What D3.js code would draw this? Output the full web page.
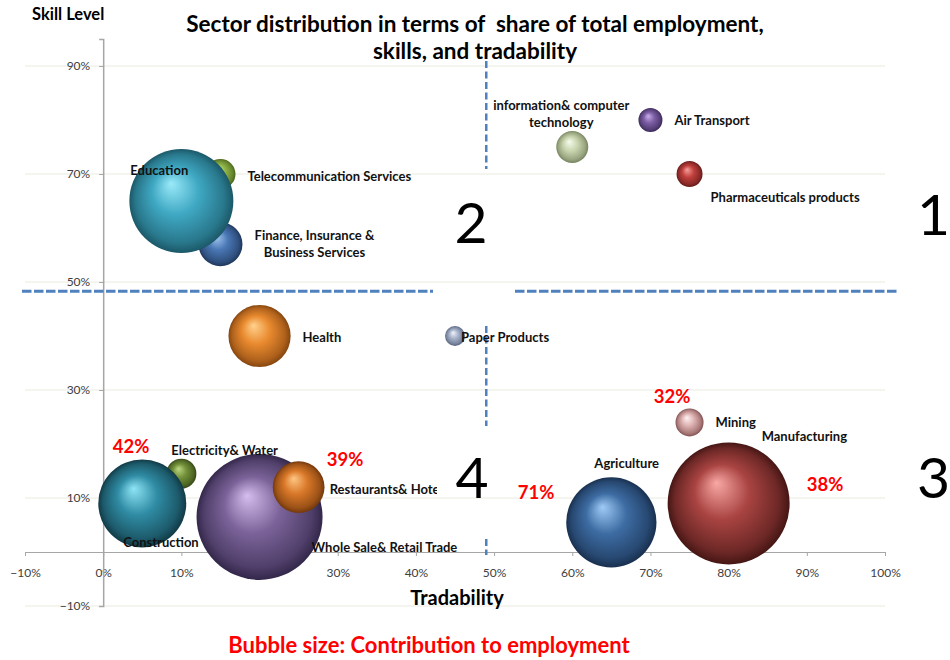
<!DOCTYPE html>
<html>
<head>
<meta charset="utf-8">
<script src="https://cdn.jsdelivr.net/npm/d3@7"></script>
<style>
  html, body { margin: 0; padding: 0; background: #fff; }
  svg { display: block; }
  text { font-family: Lato, "Open Sans", sans-serif; white-space: pre; }
</style>
</head>
<body>
<svg id="chart" width="950" height="660"></svg>
<script>
// ---------------- DATA ----------------
const sectors = [
  "Telecommunication Services", "Finance, Insurance & Business Services", "Education",
  "Electricity& Water", "Construction", "Whole Sale& Retail Trade", "Restaurants& Hotels",
  "Health", "Paper Products", "information& computer technology", "Air Transport",
  "Pharmaceuticals products", "Mining", "Agriculture", "Manufacturing"
];
const tradability = [0.15, 0.15, 0.10, 0.10, 0.05, 0.20, 0.25, 0.20, 0.45, 0.60, 0.70, 0.75, 0.75, 0.65, 0.80];
const skillLevel  = [0.70, 0.57, 0.65, 0.145, 0.09, 0.065, 0.12, 0.40, 0.40, 0.75, 0.80, 0.70, 0.24, 0.055, 0.09];
const employment  = [0.91, 1.95, 10.9, 0.91, 7.8, 16.0, 2.7, 3.9, 0.40, 1.03, 0.58, 0.68, 0.79, 8.2, 15.0];

const xTicks = [-0.1, 0, 0.1, 0.2, 0.3, 0.4, 0.5, 0.6, 0.7, 0.8, 0.9, 1.0];
const yTicks = [-0.1, 0.1, 0.3, 0.5, 0.7, 0.9];

const shareLabels = ["42%", "39%", "71%", "32%", "38%"];
const quadrantLabels = ["1", "2", "3", "4"];

const titleLines = ["Sector distribution in terms of  share of total employment,", "skills, and tradability"];

// ---------------- STYLE / LAYOUT ----------------
const bubbleColors = [
  ["#cbe88f", "#8eb347", "#4a661c"],
  ["#a4c9f2", "#4a77b5", "#1f375c"],
  ["#9aeaf9", "#3fa8c3", "#1b5868"],
  ["#bcd884", "#73913a", "#354716"],
  ["#8fe4f6", "#2f8ca4", "#113a46"],
  ["#d6bdee", "#7b6399", "#33274a"],
  ["#ffc784", "#d97829", "#73380b"],
  ["#ffd28e", "#e98a2f", "#86460f"],
  ["#f1f4fb", "#a7b2ca", "#56617c"],
  ["#f7fbee", "#c8d5ae", "#77845f"],
  ["#c9aeea", "#7c5ea4", "#3a2857"],
  ["#f79f9b", "#c0403d", "#641a18"],
  ["#fff3f3", "#deb1b1", "#835252"],
  ["#9fcbf6", "#3d6ca3", "#19304f"],
  ["#f9a8a5", "#a94442", "#451614"]
];
// label layout relative to bubble centre (px); lines split by "|"
const labelLayout = [
  {t: "Telecommunication Services", dx: 27, dy: 2, a: "start"},
  {t: "Finance, Insurance &|Business Services", dx: 94, dy: -9, a: "middle"},
  {t: "Education", dx: -51, dy: -31, a: "start"},
  {t: "Electricity& Water", dx: -10, dy: -24, a: "start"},
  {t: "Construction", dx: -19, dy: 39, a: "start"},
  {t: "Whole Sale& Retail Trade", dx: 52, dy: 30, a: "start"},
  {t: "Restaurants& Hotels", dx: 31, dy: 2, a: "start", clip: true},
  {t: "Health", dx: 43, dy: 1, a: "start"},
  {t: "Paper Products", dx: 6, dy: 1, a: "start"},
  {t: "information& computer|technology", dx: -11, dy: -42, a: "middle"},
  {t: "Air Transport", dx: 24, dy: 0, a: "start"},
  {t: "Pharmaceuticals products", dx: 21, dy: 23, a: "start"},
  {t: "Mining", dx: 26, dy: 0, a: "start"},
  {t: "Agriculture", dx: -17, dy: -59, a: "start"},
  {t: "Manufacturing", dx: 33, dy: -67, a: "start"}
];
const labelShift = 2;
const sharePos = [[131, 448], [345, 461], [536, 494], [672, 398], [825, 486]];
const quadPos = [[950, 235, "end"], [471, 243, "middle"], [950, 498, "end"], [472, 498, "middle"]];

// ---------------- CHART ----------------
const svg = d3.select("#chart");
const x = d3.scaleLinear().domain([-0.1, 1.0]).range([25, 885]);
const y = d3.scaleLinear().domain([-0.1, 0.95]).range([606, 39]);
const r = d3.scaleSqrt().domain([0, 16]).range([0, 63]);

const defs = svg.append("defs");
bubbleColors.forEach((c, i) => {
  const g = defs.append("radialGradient").attr("id", "g" + i)
    .attr("cx", "50%").attr("cy", "50%").attr("r", "50%")
    .attr("fx", "40%").attr("fy", "33%");
  g.append("stop").attr("offset", "0%").attr("stop-color", c[0]);
  g.append("stop").attr("offset", "45%").attr("stop-color", c[1]);
  g.append("stop").attr("offset", "85%").attr("stop-color", d3.interpolateRgb(c[1], c[2])(0.6));
  g.append("stop").attr("offset", "100%").attr("stop-color", c[2]);
});
defs.append("clipPath").attr("id", "plotClip")
  .append("rect").attr("x", 0).attr("y", 0).attr("width", 437).attr("height", 660);

// gridlines
svg.append("g").selectAll("line").data(yTicks).join("line")
  .attr("x1", x(-0.1)).attr("x2", x(1.0))
  .attr("y1", d => y(d)).attr("y2", d => y(d))
  .attr("stroke", "#ebebe0").attr("stroke-width", 1);

// x axis at y = 0
const xAxis = d3.axisBottom(x).tickValues(xTicks).tickFormat(d3.format(".0%")).tickSize(4).tickPadding(12);
const gx = svg.append("g").attr("transform", `translate(0,${y(0)})`).call(xAxis);
gx.select(".domain").attr("stroke", "#a6a6a6");
gx.selectAll(".tick line").attr("stroke", "#a6a6a6");
gx.selectAll(".tick text").attr("fill", "#404040").style("font-size", "12px");

// y axis at x = 0
const yAxis = d3.axisLeft(y).tickValues(yTicks).tickFormat(d3.format(".0%")).tickSize(4).tickPadding(9);
const gy = svg.append("g").attr("transform", `translate(${x(0)},0)`).call(yAxis);
gy.select(".domain").attr("stroke", "#a6a6a6").attr("stroke-width", 1.5);
gy.selectAll(".tick line").attr("stroke", "#a6a6a6");
gy.selectAll(".tick text").attr("fill", "#404040").style("font-size", "12px");

// quadrant dashed separators
const dashG = svg.append("g").attr("stroke", "#4f81bd").attr("stroke-width", 3).attr("fill", "none");
const xSep = x(0.49), ySep = y(0.483);
dashG.append("line").attr("x1", 22).attr("x2", 433).attr("y1", ySep).attr("y2", ySep).attr("stroke-dasharray", "9.5,2.5");
dashG.append("line").attr("x1", 515).attr("x2", 899).attr("y1", ySep).attr("y2", ySep).attr("stroke-dasharray", "9.5,2.5");
[[61, 169], [326, 426], [539, 555]].forEach(([a, b]) => {
  dashG.append("line").attr("x1", xSep).attr("x2", xSep).attr("y1", a).attr("y2", b)
    .attr("stroke-dasharray", "7,3.5").attr("stroke-width", 2.5);
});

// bubbles
const data = sectors.map((s, i) => ({s, x: tradability[i], y: skillLevel[i], e: employment[i], i}));
svg.append("g").selectAll("circle").data(data).join("circle")
  .attr("cx", d => x(d.x)).attr("cy", d => y(d.y)).attr("r", d => r(d.e))
  .attr("fill", d => `url(#g${d.i})`);

// labels
const lg = svg.append("g").attr("font-weight", "bold").attr("fill", "#111").style("font-size", "13px");
data.forEach((d, i) => {
  const L = labelLayout[i];
  const lines = L.t.split("|");
  const t = lg.append("text")
    .attr("x", x(d.x) + L.dx).attr("y", y(d.y) + L.dy + labelShift)
    .attr("text-anchor", L.a).attr("dominant-baseline", "middle");
  if (L.clip) t.attr("clip-path", "url(#plotClip)");
  lines.forEach((ln, k) => {
    t.append("tspan").attr("x", x(d.x) + L.dx).attr("dy", k === 0 ? 0 : 17).text(ln);
  });
});

// share annotations
svg.append("g").selectAll("text").data(shareLabels).join("text")
  .attr("x", (d, i) => sharePos[i][0]).attr("y", (d, i) => sharePos[i][1])
  .attr("text-anchor", "middle").attr("dominant-baseline", "middle")
  .attr("fill", "#ff0000").attr("font-weight", "bold").style("font-size", "18.5px")
  .text(d => d);

// quadrant numbers
svg.append("g").selectAll("text").data(quadrantLabels).join("text")
  .attr("x", (d, i) => quadPos[i][0]).attr("y", (d, i) => quadPos[i][1])
  .attr("text-anchor", (d, i) => quadPos[i][2]).attr("fill", "#000").style("font-size", "57px")
  .text(d => d);

// titles
svg.append("g").selectAll("text").data(titleLines).join("text")
  .attr("x", 475).attr("y", (d, i) => 32 + i * 27)
  .attr("text-anchor", "middle").attr("font-weight", "bold").style("font-size", "22.5px").attr("fill", "#000")
  .text(d => d);

svg.append("text").attr("x", 32).attr("y", 20).attr("font-weight", "bold").style("font-size", "16.5px").text("Skill Level");
svg.append("text").attr("x", 457).attr("y", 605).attr("text-anchor", "middle").attr("font-weight", "bold").style("font-size", "20px").text("Tradability");
svg.append("text").attr("x", 429).attr("y", 653).attr("text-anchor", "middle").attr("font-weight", "bold")
  .attr("fill", "#ff0000").style("font-size", "22px").text("Bubble size: Contribution to employment");
</script>
</body>
</html>
